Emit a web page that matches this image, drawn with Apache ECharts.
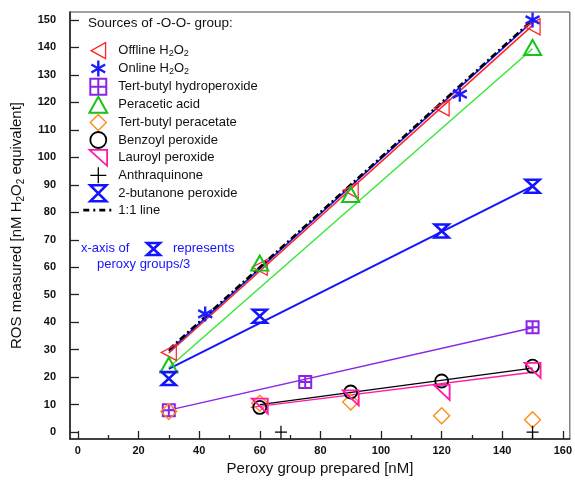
<!DOCTYPE html>
<html>
<head>
<meta charset="utf-8">
<script src="https://cdn.jsdelivr.net/npm/echarts@6/dist/echarts.min.js"></script>
<style>
  html, body { margin: 0; padding: 0; background: #fff; }
  #chart { width: 575px; height: 487px; }
</style>
</head>
<body>
<div id="chart"></div>
<script>
// measured points (x = peroxy group prepared, y = ROS measured)
const offlineX = [30, 60, 90, 120, 150]
const offlineY = [29, 60, 88, 118, 147.5]
const onlineX = [42, 126, 150]
const onlineY = [43, 123, 150]
const tbhpX = [30, 75, 150]
const tbhpY = [8, 18.2, 38.2]
const peraceticX = [30, 60, 90, 150]
const peraceticY = [24.4, 61.5, 86.5, 140]
const tbpaX = [30, 60, 90, 120, 150]
const tbpaY = [7.5, 10.5, 11, 6, 4.5]
const benzoylX = [60, 90, 120, 150]
const benzoylY = [9, 14.6, 18.6, 24]
const lauroylX = [60, 90, 120, 150]
const lauroylY = [9.5, 12.5, 14.5, 22.5]
const anthraX = [67, 150]
const anthraY = [0, 0]
const mekpX = [30, 60, 120, 150]
const mekpY = [19.5, 42.2, 73.2, 89.5]

// fitted lines: [start, end]
const offlineFitX = [30, 150], offlineFitY = [28.8, 148]
const onlineFitX = [30, 150], onlineFitY = [29.5, 149.5]
const tbhpFitX = [30, 150], tbhpFitY = [8, 38]
const peraceticFitX = [30, 150], peraceticFitY = [23.5, 139.5]
const benzoylFitX = [60, 150], benzoylFitY = [10, 23.3]
const lauroylFitX = [57, 150], lauroylFitY = [9, 21.8]
const mekpFitX = [30, 150], mekpFitY = [23, 89.5]
const oneToOneX = [30, 150], oneToOneY = [30, 150]

// tick labels
const xTicks = [0, 20, 40, 60, 80, 100, 120, 140, 160]
const xMinorTicks = [10, 30, 50, 70, 90, 110, 130, 150]
const yTicks = [0, 10, 20, 30, 40, 50, 60, 70, 80, 90, 100, 110, 120, 130, 140, 150]

const pairs = (xs, ys) => xs.map((x, i) => [x, ys[i]])

const FONT = 'Liberation Sans, Arial, sans-serif'

// marker shapes
const SYM = {
  triLeft: 'path://M10,0 L0,5.5 L10,11 Z',
  star: 'path://M5,0 L5,10 M0.7,2.5 L9.3,7.5 M0.7,7.5 L9.3,2.5',
  boxPlus: 'path://M0,0 L10,0 L10,10 L0,10 Z M5,0 L5,10 M0,5 L10,5',
  triUp: 'path://M5,0 L10,9 L0,9 Z',
  diamond: 'path://M5,0 L10,5 L5,10 L0,5 Z',
  circle: 'circle',
  triCorner: 'path://M0,0 L11,0 L11,10 Z',
  plus: 'path://M5,0 L5,10 M0,5 L10,5',
  bowtie: 'path://M0,0 L10,0 L0,10 L10,10 Z'
}

const markerDefs = [
  { name: 'Offline H2O2', xs: offlineX, ys: offlineY, sym: SYM.triLeft, size: [15, 16], color: '#ff2626', bw: 1.3 },
  { name: 'Online H2O2', xs: onlineX, ys: onlineY, sym: SYM.star, size: [14, 15], color: '#1c1cff', bw: 2.4 },
  { name: 'Tert-butyl hydroperoxide', xs: tbhpX, ys: tbhpY, sym: SYM.boxPlus, size: [12, 12], color: '#8a25e6', bw: 2 },
  { name: 'Peracetic acid', xs: peraceticX, ys: peraceticY, sym: SYM.triUp, size: [17, 15], color: '#16c316', bw: 2 },
  { name: 'Tert-butyl peracetate', xs: tbpaX, ys: tbpaY, sym: SYM.diamond, size: [16, 16], color: '#ff8c1a', bw: 1.4 },
  { name: 'Benzoyl peroxide', xs: benzoylX, ys: benzoylY, sym: SYM.circle, size: 13, color: '#000000', bw: 1.8 },
  { name: 'Lauroyl peroxide', xs: lauroylX, ys: lauroylY, sym: SYM.triCorner, size: [16, 15], color: '#ff1aaa', bw: 1.8 },
  { name: 'Anthraquinone', xs: anthraX, ys: anthraY, sym: SYM.plus, size: [12, 13], color: '#000000', bw: 1.3 },
  { name: '2-butanone peroxide', xs: mekpX, ys: mekpY, sym: SYM.bowtie, size: [14, 13], color: '#1414ff', bw: 2.6 }
]

const fitDefs = [
  { xs: offlineFitX, ys: offlineFitY, color: '#ff2626', w: 1.6 },
  { xs: peraceticFitX, ys: peraceticFitY, color: '#33e633', w: 1.4 },
  { xs: onlineFitX, ys: onlineFitY, color: '#1c1cff', w: 1.8 },
  { xs: tbhpFitX, ys: tbhpFitY, color: '#8a25e6', w: 1.4 },
  { xs: benzoylFitX, ys: benzoylFitY, color: '#000000', w: 1.4 },
  { xs: lauroylFitX, ys: lauroylFitY, color: '#ff1aaa', w: 1.4 },
  { xs: mekpFitX, ys: mekpFitY, color: '#1414ff', w: 2 }
]

const series = []
fitDefs.forEach(f => {
  series.push({
    type: 'line', data: pairs(f.xs, f.ys), symbol: 'none', silent: true,
    lineStyle: { color: f.color, width: f.w }, z: 2
  })
})
series.push({
  name: '1:1 line', type: 'line', data: pairs(oneToOneX, oneToOneY), symbol: 'none',
  color: '#000',
  lineStyle: { color: '#000', width: 2.6, type: [7, 3, 2, 3] }, z: 3
})
markerDefs.forEach(m => {
  series.push({
    name: m.name, type: 'scatter', data: pairs(m.xs, m.ys),
    symbol: m.sym, symbolSize: m.size, symbolKeepAspect: false,
    itemStyle: { color: 'rgba(0,0,0,0)', borderColor: m.color, borderWidth: m.bw, opacity: 1 },
    z: 4
  })
})

const legendData = markerDefs.map(m => ({
  name: m.name, icon: m.sym,
  itemStyle: { color: 'rgba(0,0,0,0)', borderColor: m.color, borderWidth: m.bw }
}))
legendData.push({ name: '1:1 line', itemStyle: { opacity: 0 }, lineStyle: { width: 2.6, type: [6, 4, 2, 4] } })

const subRich = {
  s: { fontSize: 9, lineHeight: 9, verticalAlign: 'bottom', fontFamily: FONT, color: '#111' }
}

const option = {
  animation: false,
  backgroundColor: '#fff',
  title: {
    text: 'Sources of -O-O- group:',
    left: 88, top: 16, padding: 0,
    textStyle: { fontSize: 13.5, fontWeight: 'normal', color: '#111', fontFamily: FONT }
  },
  legend: {
    orient: 'vertical', left: 82, top: 42, padding: 0,
    itemWidth: 30, itemHeight: 16, itemGap: 0,
    data: legendData,
    formatter: name => name.replace('H2O2', 'H{s|2}O{s|2}'),
    textStyle: { fontSize: 13, color: '#111', fontFamily: FONT, lineHeight: 15, rich: subRich }
  },
  grid: {
    left: 66, right: 1, top: 12, bottom: 48,
    show: true, borderColor: '#444', borderWidth: 1
  },
  xAxis: [{
    type: 'value', min: -2.6, max: 162.3,
    name: 'Peroxy group prepared [nM]', nameLocation: 'middle', nameGap: 22,
    nameTextStyle: { fontSize: 15, color: '#111', fontFamily: FONT },
    axisLine: { onZero: false, lineStyle: { color: '#222', width: 1.6 } },
    axisTick: { inside: true, length: 8, customValues: xTicks, lineStyle: { color: '#222', width: 1.3 } },
    axisLabel: { customValues: xTicks, margin: 6, fontSize: 11, fontWeight: 'bold', color: '#111', fontFamily: FONT },
    splitLine: { show: false }
  }, {
    type: 'value', min: -2.6, max: 162.3, position: 'bottom',
    axisLine: { show: false, onZero: false },
    axisTick: { inside: true, length: 4, customValues: xMinorTicks, lineStyle: { color: '#222', width: 1.3 } },
    axisLabel: { show: false },
    splitLine: { show: false }
  }],
  yAxis: {
    type: 'value', min: -2.5, max: 152.9,
    name: 'ROS measured [nM H{s|2}O{s|2} equivalent]', nameLocation: 'middle', nameGap: 44,
    nameTextStyle: {
      fontSize: 15, color: '#111', fontFamily: FONT, lineHeight: 18,
      rich: { s: { fontSize: 10, lineHeight: 10, verticalAlign: 'bottom', fontFamily: FONT, color: '#111' } }
    },
    axisLine: { onZero: false, lineStyle: { color: '#222', width: 1.6 } },
    axisTick: { inside: true, length: 9, customValues: yTicks, lineStyle: { color: '#222', width: 1.3 } },
    axisLabel: { customValues: yTicks, margin: 14, fontSize: 11, fontWeight: 'bold', color: '#111', fontFamily: FONT },
    splitLine: { show: false }
  },
  graphic: [
    { type: 'text', left: 81, top: 242, style: { text: 'x-axis of', fontSize: 13, fill: '#1414ff', fontFamily: FONT } },
    { type: 'polygon', shape: { points: [[147, 243], [160, 243], [147, 255], [160, 255]] },
      style: { fill: 'none', stroke: '#1414ff', lineWidth: 2.6 } },
    { type: 'text', left: 173, top: 242, style: { text: 'represents', fontSize: 13, fill: '#1414ff', fontFamily: FONT } },
    { type: 'text', left: 97, top: 258, style: { text: 'peroxy groups/3', fontSize: 13, fill: '#1414ff', fontFamily: FONT } }
  ],
  series: series
}

const chart = echarts.init(document.getElementById('chart'))
chart.setOption(option)
</script>
</body>
</html>
